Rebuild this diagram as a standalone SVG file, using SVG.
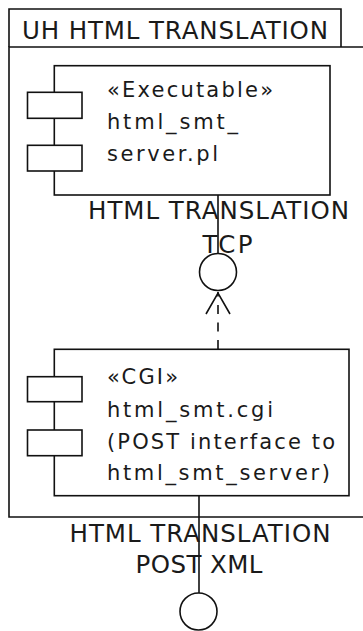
<svg xmlns="http://www.w3.org/2000/svg" width="363" height="631" viewBox="0 0 363 631">
  <style>
    .ln { fill: none; stroke: #111; stroke-width: 1.6; }
    .box { fill: #fff; stroke: #111; stroke-width: 1.6; }
    .t { font-family: "DejaVu Sans", "Verdana", sans-serif; fill: #1a1a1a; }
    .big { font-size: 24.5px; }
    .small { font-size: 21px; }
  </style>

  <rect width="363" height="631" fill="#fff"/>

  <!-- Package UH HTML TRANSLATION -->
  <g id="package-uh-html-translation">
    <path class="ln" d="M9,47 L9,9 L341,9 L341,47"/>
    <path class="ln" d="M363,47 L9,47 L9,517 L363,517"/>
    <text class="t big" x="22" y="39.3" textLength="306" lengthAdjust="spacing">UH HTML TRANSLATION</text>
  </g>

  <!-- Connectors -->
  <g id="connectors">
    <!-- server provides TCP interface -->
    <line class="ln" x1="218" y1="195" x2="218" y2="253.5"/>
    <!-- cgi uses TCP interface (dashed dependency, open arrowhead) -->
    <line class="ln" x1="218" y1="349" x2="218" y2="292" stroke-dasharray="9,8.5"/>
    <path class="ln" d="M206,314 L218,293 L230,314"/>
    <!-- cgi provides POST XML interface -->
    <line class="ln" x1="199" y1="496" x2="199" y2="593"/>
  </g>

  <!-- Interface: HTML TRANSLATION TCP -->
  <g id="iface-tcp">
    <circle class="ln" cx="218" cy="272" r="18.5"/>
    <text class="t big" x="88" y="219.3" textLength="261" lengthAdjust="spacing">HTML TRANSLATION</text>
    <text class="t big" x="202.5" y="252.7" textLength="50" lengthAdjust="spacing">TCP</text>
  </g>

  <!-- Interface: HTML TRANSLATION POST XML -->
  <g id="iface-post-xml">
    <circle class="ln" cx="198.5" cy="611.5" r="18.5"/>
    <text class="t big" x="69.5" y="541.7" textLength="261" lengthAdjust="spacing">HTML TRANSLATION</text>
    <text class="t big" x="135.5" y="573.3" textLength="127" lengthAdjust="spacing">POST XML</text>
  </g>

  <!-- Component html_smt_server.pl -->
  <g id="comp-server">
    <rect class="box" x="54.3" y="65.7" width="275.7" height="129.3"/>
    <rect class="box" x="27.5" y="92.3" width="54.5" height="26"/>
    <rect class="box" x="27.5" y="145.3" width="54.5" height="25.7"/>
    <text class="t small" x="107" y="97" textLength="166" lengthAdjust="spacing">«Executable»</text>
    <text class="t small" x="107" y="129" textLength="131" lengthAdjust="spacing">html_smt_</text>
    <text class="t small" x="107" y="161" textLength="111" lengthAdjust="spacing">server.pl</text>
  </g>

  <!-- Component html_smt.cgi -->
  <g id="comp-cgi">
    <rect class="box" x="54.3" y="349.3" width="294.7" height="146.4"/>
    <rect class="box" x="27.5" y="376.7" width="54.5" height="25"/>
    <rect class="box" x="27.5" y="430" width="54.5" height="25.7"/>
    <text class="t small" x="107" y="383.5" textLength="71" lengthAdjust="spacing">«CGI»</text>
    <text class="t small" x="107" y="417" textLength="166" lengthAdjust="spacing">html_smt.cgi</text>
    <text class="t small" x="107" y="448.5" textLength="228" lengthAdjust="spacing">(POST interface to</text>
    <text class="t small" x="107" y="480" textLength="223" lengthAdjust="spacing">html_smt_server)</text>
  </g>
</svg>
